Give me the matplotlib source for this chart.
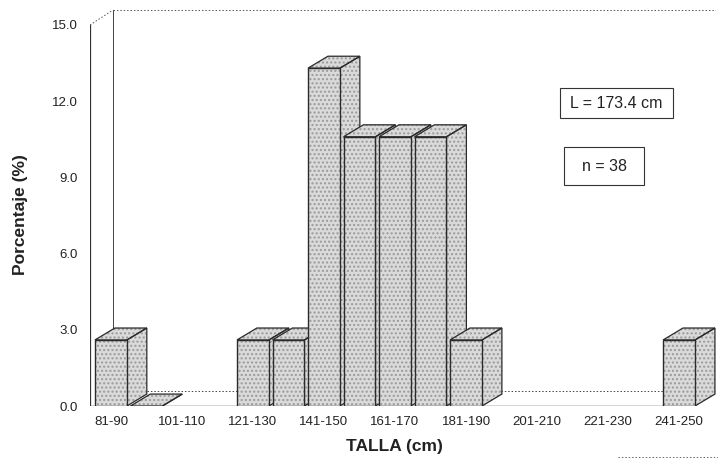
import numpy as np
import matplotlib
matplotlib.use("Agg")
import matplotlib.pyplot as plt
from matplotlib.patches import Polygon, Rectangle
from matplotlib.lines import Line2D

plt.rcParams['font.family'] = ['Liberation Sans', 'DejaVu Sans']

# clases de talla (cm) y porcentaje
clases = ["81-90", "91-100", "101-110", "111-120", "121-130", "131-140",
          "141-150", "151-160", "161-170", "171-180", "181-190", "191-200",
          "201-210", "211-220", "221-230", "231-240", "241-250"]
porcentaje = [2.6, 0.0, np.nan, np.nan, 2.6, 2.6, 13.3, 10.6, 10.6, 10.6,
              2.6, np.nan, np.nan, np.nan, np.nan, np.nan, 2.6]
yticks = [0.0, 3.0, 6.0, 9.0, 12.0, 15.0]

fig = plt.figure(figsize=(7.18, 4.61), dpi=100)
W, H = 718, 461
ax = fig.add_axes([90 / W, (H - 406) / H, 626 / W, 396 / H])
x0, x1 = -0.59, 17.04
ymax = 15.59
ax.set_xlim(x0, x1)
ax.set_ylim(0, ymax)
for s in ax.spines.values():
    s.set_visible(False)

ancho = 0.90
bdx, bdy = 0.56, 0.47      # profundidad de las barras
wdx, wdy = 0.65, 0.59      # profundidad de la pared
fill = "#dadada"
hatchc = "#9a9a9a"
edge = "#2a2a2a"

# pared del fondo
xb = x0 + wdx
ax.plot([x0, xb], [15.0, ymax], ls=(0, (1.5, 2)), lw=0.7, color="#555", zorder=1)
ax.plot([xb, xb], [wdy, ymax], lw=0.7, color="#444", zorder=1)
ax.plot([xb, x1 - 0.01], [ymax - 0.01, ymax - 0.01], ls=(0, (1.5, 2)), lw=0.7, color="#555", zorder=1)
ax.plot([x1 - 0.01, x1 - 0.01], [wdy, ymax], ls=(0, (1.5, 2)), lw=0.7, color="#666", zorder=1)
ax.plot([xb, x1], [wdy, wdy], ls=(0, (1.5, 2)), lw=0.7, color="#444", zorder=1)
# ejes frontales
ax.plot([x0, x0], [0, 15.0], lw=0.9, color="#333", zorder=1.5)
ax.plot([x0, 16.45], [0, 0], lw=1.0, color="#333", zorder=1.5)

xs = np.arange(len(clases))
for i, v in enumerate(porcentaje):
    if np.isnan(v):
        continue
    z = 2 + i * 0.1
    l = xs[i] - ancho / 2
    r = l + ancho
    side = [(r, 0), (r + bdx, bdy), (r + bdx, v + bdy), (r, v)]
    top = [(l, v), (r, v), (r + bdx, v + bdy), (l + bdx, v + bdy)]
    for poly in (side, top):
        ax.add_patch(Polygon(poly, closed=True, facecolor=fill, edgecolor=hatchc,
                             hatch="....", lw=0, zorder=z))
        ax.add_patch(Polygon(poly, closed=True, facecolor="none", edgecolor=edge,
                             lw=0.9, zorder=z + 0.01))
    if v > 0:
        ax.bar(xs[i], v, width=ancho, color=fill, edgecolor=hatchc, hatch="....",
               lw=0, zorder=z + 0.02)
        ax.bar(xs[i], v, width=ancho, color="none", edgecolor=edge, lw=1.0,
               zorder=z + 0.03)

ax.set_xticks(xs[::2])
ax.set_xticklabels(clases[::2], fontsize=9.5, color="#222")
ax.set_yticks(yticks)
ax.set_yticklabels([f"{t:.1f}" for t in yticks], fontsize=9.5, color="#222")
ax.tick_params(length=0, pad=7)
ax.tick_params(axis="y", pad=9)

fig.text(21 / W, 1 - 215 / H, "Porcentaje (%)", rotation=90, ha="center", va="center",
         fontsize=12.5, fontweight="bold", color="#222")
fig.text(394 / W, 1 - 446 / H, "TALLA (cm)", ha="center", va="center",
         fontsize=12.5, fontweight="bold", color="#222")

# cuadros de texto
for (bx0, by0, bx1, by1, txt) in [(560, 88, 673, 118, "L = 173.4 cm"),
                                  (564, 147, 644, 185, "n = 38")]:
    fig.add_artist(Rectangle((bx0 / W, 1 - by1 / H), (bx1 - bx0) / W, (by1 - by0) / H,
                             transform=fig.transFigure, fill=False, lw=0.8,
                             edgecolor="#333"))
    fig.text((bx0 + bx1) / 2 / W, 1 - (by0 + by1) / 2 / H, txt, ha="center",
             va="center", fontsize=11.5, color="#222")

fig.add_artist(Line2D([618 / W, 1.0], [1 - 457 / H, 1 - 457 / H], transform=fig.transFigure,
                      ls=(0, (1.5, 2)), lw=0.7, color="#666"))

fig.savefig("out.png", dpi=100)
